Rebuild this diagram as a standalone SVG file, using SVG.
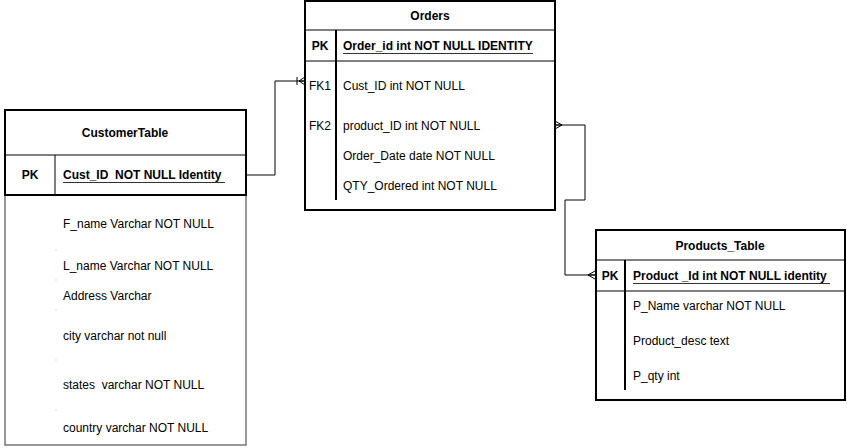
<svg xmlns="http://www.w3.org/2000/svg" width="847" height="448" viewBox="0 0 847 448">
<style>
text{font-family:"Liberation Sans",Arial,sans-serif;font-size:12px;fill:#000}
.b{font-weight:bold}
.c{text-anchor:middle}
.ul{stroke:#333;stroke-width:1}
.box{fill:#fff;stroke:#000;stroke-width:2}
.gbox{fill:#fff;stroke:#777;stroke-width:1.5}
.ln{stroke:#000;stroke-width:1;fill:none}
.dv{stroke:#000;stroke-width:2;fill:none}
.tick{stroke:#ddd;stroke-width:1}
.con{stroke:#000;stroke-width:1;fill:none}
</style>
<defs>
<marker id="many" viewBox="0 0 10 10" refX="10" refY="5" markerWidth="10" markerHeight="10" markerUnits="userSpaceOnUse" orient="auto-start-reverse">
<path d="M3,5 L10,1 M3,5 L10,5 M3,5 L10,9" fill="none" stroke="#000" stroke-width="1"/>
</marker>
<marker id="mandOne" viewBox="0 0 10 10" refX="10" refY="5" markerWidth="10" markerHeight="10" markerUnits="userSpaceOnUse" orient="auto-start-reverse">
<path d="M2,1 L2,9 M4,5 L10,1 M4,5 L10,5 M4,5 L10,9" fill="none" stroke="#000" stroke-width="1"/>
</marker>
</defs>

<g id="connectors">
<path class="con" d="M246,175 L275,175 L275,81 L305,81" marker-end="url(#mandOne)"/>
<path class="con" d="M555,125 L585,125 L585,200 L565,200 L565,275 L595,275" marker-start="url(#many)" marker-end="url(#many)"/>
</g>

<g id="customer">
<rect class="gbox" x="5" y="195" width="241" height="250"/>
<rect class="box" x="5" y="110" width="241" height="85"/>
<line class="ln" x1="5" y1="155" x2="246" y2="155"/>
<line class="ln" x1="55" y1="155" x2="55" y2="195"/>
<line class="tick" x1="55" y1="250" x2="57" y2="250"/>
<line class="tick" x1="55" y1="280" x2="57" y2="280"/>
<line class="tick" x1="55" y1="310" x2="57" y2="310"/>
<line class="tick" x1="55" y1="360" x2="57" y2="360"/>
<line class="tick" x1="55" y1="410" x2="57" y2="410"/>
<text class="b c" x="125" y="137">CustomerTable</text>
<text class="b c" x="30" y="179">PK</text>
<text class="b" x="63" y="179" xml:space="preserve">Cust_ID  NOT NULL Identity</text>
<line class="ul" x1="63" y1="182.5" x2="225" y2="182.5"/>
<text x="63" y="228">F_name Varchar NOT NULL</text>
<text x="63" y="270">L_name Varchar NOT NULL</text>
<text x="63" y="300">Address Varchar</text>
<text x="63" y="340">city varchar not null</text>
<text x="63" y="389" xml:space="preserve">states  varchar NOT NULL</text>
<text x="63" y="432">country varchar NOT NULL</text>
</g>

<g id="orders">
<rect class="box" x="305" y="1" width="250" height="209"/>
<line class="ln" x1="305" y1="30" x2="555" y2="30"/>
<line class="ln" x1="305" y1="61" x2="555" y2="61"/>
<line class="dv" x1="336" y1="30" x2="336" y2="200"/>
<text class="b c" x="430" y="20">Orders</text>
<text class="b c" x="320" y="50">PK</text>
<text class="b" x="343" y="50">Order_id int NOT NULL IDENTITY</text>
<line class="ul" x1="343" y1="53.5" x2="533" y2="53.5"/>
<text x="309" y="90">FK1</text>
<text x="343" y="90">Cust_ID int NOT NULL</text>
<text x="309" y="130">FK2</text>
<text x="343" y="130">product_ID int NOT NULL</text>
<text x="343" y="160">Order_Date date NOT NULL</text>
<text x="343" y="190">QTY_Ordered int NOT NULL</text>
</g>

<g id="products">
<rect class="box" x="596" y="230" width="249" height="170"/>
<line class="ln" x1="596" y1="260" x2="845" y2="260"/>
<line class="ln" x1="596" y1="291" x2="845" y2="291"/>
<line class="dv" x1="625" y1="260" x2="625" y2="390"/>
<text class="b c" x="720" y="250">Products_Table</text>
<text class="b c" x="610" y="280">PK</text>
<text class="b" x="633" y="280" xml:space="preserve">Product _Id int NOT NULL identity</text>
<line class="ul" x1="633" y1="283.5" x2="830" y2="283.5"/>
<text x="633" y="310">P_Name varchar NOT NULL</text>
<text x="633" y="345">Product_desc text</text>
<text x="633" y="380">P_qty int</text>
</g>
</svg>
